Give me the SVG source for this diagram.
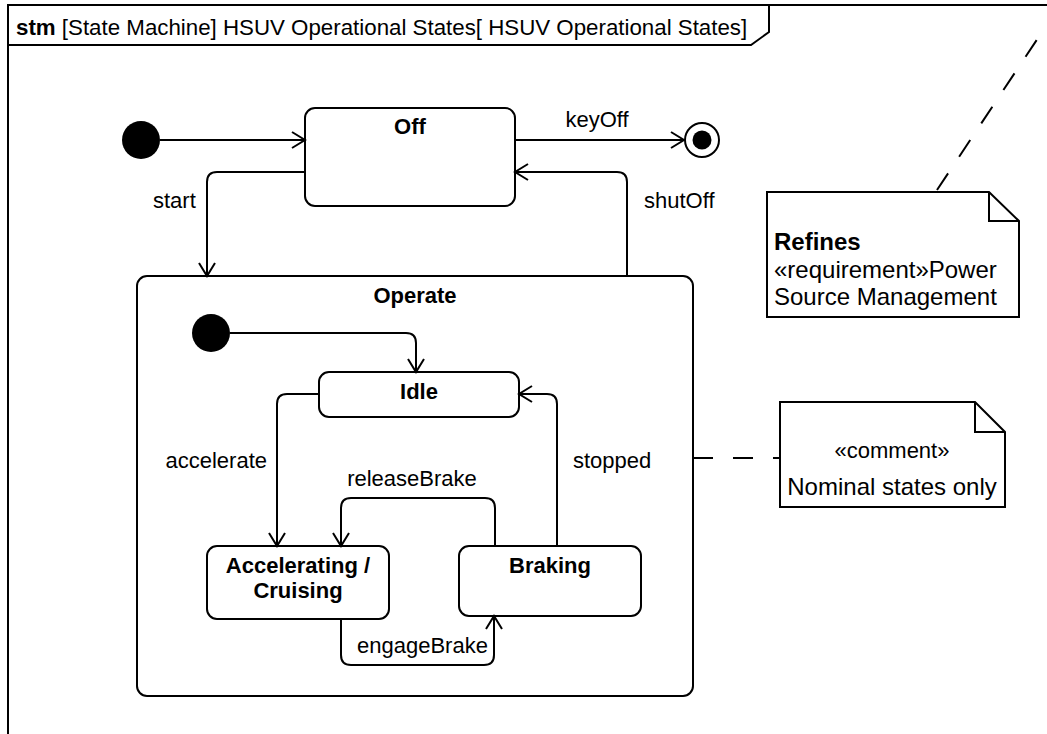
<svg xmlns="http://www.w3.org/2000/svg" width="1047" height="734" viewBox="0 0 1047 734">
<style>
  .ln { fill: none; stroke: #000; stroke-width: 2; }
  .st { fill: #fff; stroke: #000; stroke-width: 2; }
  .t { font-family: "Liberation Sans", Arial, sans-serif; font-size: 22px; fill: #000; }
  .tn { font-family: "Liberation Sans", Arial, sans-serif; font-size: 24px; fill: #000; }
  .b { font-weight: bold; }
  .c { text-anchor: middle; }
  .dash { fill: none; stroke: #000; stroke-width: 2; stroke-dasharray: 20 20; }
</style>
<defs>
  <marker id="arr" markerUnits="userSpaceOnUse" markerWidth="20" markerHeight="20" refX="0" refY="0" viewBox="-15 -10 17 20" orient="auto" overflow="visible">
    <path d="M-13,-8 L0,0 L-13,8" fill="none" stroke="#000" stroke-width="2"/>
  </marker>
</defs>
<rect width="1047" height="734" fill="#fff"/>
<g id="frame">
  <rect x="8" y="5" width="1100" height="800" fill="none" stroke="#000" stroke-width="2"/>
  <path d="M8,45 H751 L769,32 V5" class="ln"/>
  <text x="16" y="35" class="t" style="font-size:22.3px"><tspan class="b">stm</tspan> [State Machine] HSUV Operational States[ HSUV Operational States]</text>
</g>
<g id="Operate">
  <rect x="137" y="276" width="556" height="420" rx="10" class="st"/>
  <text x="415" y="303" class="t b c">Operate</text>
</g>
<g id="init1"><circle cx="141" cy="140" r="19" fill="#000"/></g>
<g id="Off">
  <rect x="305" y="108" width="210" height="98" rx="10" class="st"/>
  <text x="410" y="134" class="t b c">Off</text>
</g>
<g id="final"><circle cx="702" cy="140" r="17" class="st"/><circle cx="702" cy="140" r="9.5" fill="#000"/></g>
<g id="init2"><circle cx="211" cy="333" r="19" fill="#000"/></g>
<g id="Idle">
  <rect x="319" y="372" width="200" height="45" rx="10" class="st"/>
  <text x="419" y="399" class="t b c">Idle</text>
</g>
<g id="Accelerating">
  <rect x="207" y="546" width="182" height="73" rx="10" class="st"/>
  <text x="298" y="573" class="t b c">Accelerating /</text>
  <text x="298" y="598" class="t b c">Cruising</text>
</g>
<g id="Braking">
  <rect x="459" y="546" width="182" height="70" rx="10" class="st"/>
  <text x="550" y="573" class="t b c">Braking</text>
</g>
<g id="note-refines">
  <path d="M767,192 H989 L1019,221 V317 H767 Z" class="st"/>
  <path d="M989,192 V221 H1019" class="ln"/>
  <text x="774" y="250" class="tn b">Refines</text>
  <text x="774" y="278" class="tn">«requirement»Power</text>
  <text x="774" y="305" class="tn">Source Management</text>
</g>
<g id="note-comment">
  <path d="M780,402 H975 L1005,432 V507 H780 Z" class="st"/>
  <path d="M975,402 V432 H1005" class="ln"/>
  <text x="892" y="458" class="t c">«comment»</text>
  <text x="892" y="495" class="tn c">Nominal states only</text>
</g>
<g id="connectors">
  <path d="M160,140 H305" class="ln" marker-end="url(#arr)"/>
  <path d="M515,140 H684" class="ln" marker-end="url(#arr)"/>
  <text x="597" y="127" class="t c">keyOff</text>
  <path d="M305,172 H217 Q207,172 207,182 V276" class="ln" marker-end="url(#arr)"/>
  <text x="153" y="208" class="t">start</text>
  <path d="M627,276 V182 Q627,172 617,172 H515" class="ln" marker-end="url(#arr)"/>
  <text x="644" y="208" class="t">shutOff</text>
  <path d="M230,333 H406 Q416,333 416,343 V372" class="ln" marker-end="url(#arr)"/>
  <path d="M319,394 H287 Q277,394 277,404 V546" class="ln" marker-end="url(#arr)"/>
  <text x="267" y="468" class="t" text-anchor="end">accelerate</text>
  <path d="M495,546 V508 Q495,498 485,498 H351 Q341,498 341,508 V546" class="ln" marker-end="url(#arr)"/>
  <text x="412" y="486" class="t c">releaseBrake</text>
  <path d="M557,546 V404 Q557,394 547,394 H519" class="ln" marker-end="url(#arr)"/>
  <text x="573" y="468" class="t">stopped</text>
  <path d="M341,619 V655 Q341,665 351,665 H484 Q494,665 494,655 V616" class="ln" marker-end="url(#arr)"/>
  <text x="357" y="653" class="t">engageBrake</text>
  <path d="M693,458 H780" class="dash"/>
  <path d="M937,190 L1040,35" class="dash"/>
</g>
</svg>
